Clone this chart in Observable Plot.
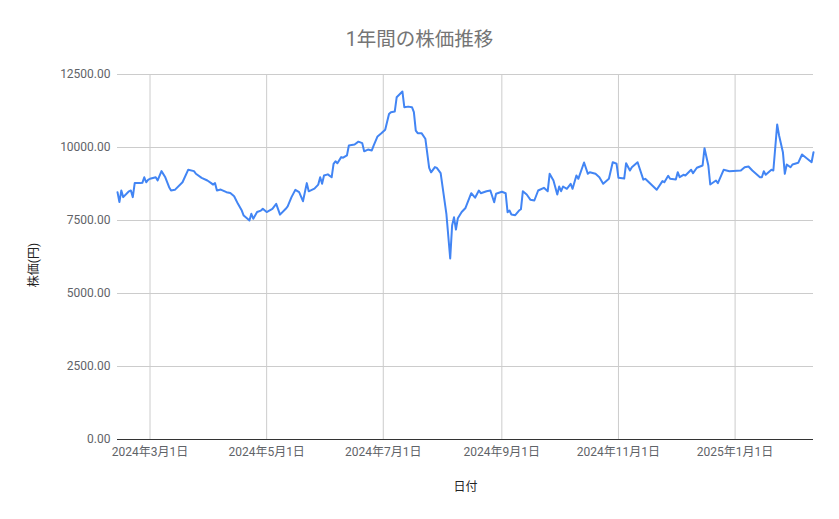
<!DOCTYPE html>
<html>
<head>
<meta charset="utf-8">
<script src="https://cdn.jsdelivr.net/npm/d3@7"></script>
<script src="https://cdn.jsdelivr.net/npm/@observablehq/plot@0.6"></script>
<style>
  html, body { margin: 0; padding: 0; background: #fff; }
  body { width: 839px; height: 519px; overflow: hidden; font-family: Roboto, "Noto Sans CJK JP", sans-serif; }
  #title { height: 60px; box-sizing: border-box; padding-top: 28px; text-align: center; font-size: 19.5px; line-height: 24px; color: #757575; }
  #chart svg { display: block; }
</style>
</head>
<body>
<div id="title">1年間の株価推移</div>
<div id="chart"></div>
<script>
const dates = ["2024-02-13","2024-02-14","2024-02-15","2024-02-16","2024-02-19","2024-02-20","2024-02-21","2024-02-22","2024-02-25","2024-02-26","2024-02-27","2024-02-28","2024-02-29","2024-03-01","2024-03-04","2024-03-05","2024-03-07","2024-03-09","2024-03-11","2024-03-12","2024-03-14","2024-03-18","2024-03-21","2024-03-24","2024-03-25","2024-03-28","2024-03-31","2024-04-02","2024-04-03","2024-04-04","2024-04-05","2024-04-07","2024-04-10","2024-04-12","2024-04-14","2024-04-16","2024-04-18","2024-04-19","2024-04-21","2024-04-22","2024-04-23","2024-04-24","2024-04-26","2024-04-28","2024-04-29","2024-05-01","2024-05-04","2024-05-06","2024-05-08","2024-05-11","2024-05-12","2024-05-14","2024-05-16","2024-05-18","2024-05-20","2024-05-22","2024-05-23","2024-05-26","2024-05-28","2024-05-29","2024-05-30","2024-05-31","2024-06-02","2024-06-04","2024-06-05","2024-06-06","2024-06-07","2024-06-09","2024-06-10","2024-06-12","2024-06-13","2024-06-16","2024-06-18","2024-06-20","2024-06-21","2024-06-23","2024-06-25","2024-06-26","2024-06-28","2024-06-30","2024-07-02","2024-07-04","2024-07-05","2024-07-07","2024-07-08","2024-07-11","2024-07-12","2024-07-14","2024-07-16","2024-07-17","2024-07-18","2024-07-19","2024-07-21","2024-07-23","2024-07-25","2024-07-26","2024-07-28","2024-07-29","2024-07-31","2024-08-03","2024-08-05","2024-08-06","2024-08-07","2024-08-08","2024-08-09","2024-08-11","2024-08-13","2024-08-16","2024-08-18","2024-08-20","2024-08-21","2024-08-24","2024-08-26","2024-08-28","2024-08-29","2024-09-01","2024-09-03","2024-09-04","2024-09-05","2024-09-06","2024-09-08","2024-09-10","2024-09-11","2024-09-12","2024-09-14","2024-09-16","2024-09-18","2024-09-20","2024-09-23","2024-09-25","2024-09-26","2024-09-28","2024-09-30","2024-10-01","2024-10-02","2024-10-03","2024-10-05","2024-10-07","2024-10-08","2024-10-10","2024-10-11","2024-10-14","2024-10-16","2024-10-17","2024-10-20","2024-10-22","2024-10-24","2024-10-27","2024-10-29","2024-10-31","2024-11-01","2024-11-04","2024-11-05","2024-11-07","2024-11-08","2024-11-11","2024-11-14","2024-11-15","2024-11-21","2024-11-24","2024-11-25","2024-11-27","2024-11-28","2024-12-01","2024-12-02","2024-12-03","2024-12-05","2024-12-06","2024-12-09","2024-12-10","2024-12-12","2024-12-15","2024-12-16","2024-12-18","2024-12-19","2024-12-22","2024-12-23","2024-12-26","2024-12-29","2025-01-04","2025-01-06","2025-01-08","2025-01-10","2025-01-14","2025-01-15","2025-01-16","2025-01-17","2025-01-20","2025-01-21","2025-01-23","2025-01-24","2025-01-26","2025-01-27","2025-01-28","2025-01-30","2025-01-31","2025-02-03","2025-02-05","2025-02-10","2025-02-11"];

const prices = [8470,8130,8530,8300,8500,8530,8300,8780,8780,8790,
8980,8810,8890,8930,8980,8870,9190,8980,8640,8530,
8550,8810,9240,9190,9100,8960,8870,8780,8730,8780,
8530,8560,8470,8440,8330,8070,7840,7670,7560,7500,
7730,7560,7790,7840,7900,7790,7900,8070,7700,7900,
7980,8300,8550,8470,8160,8780,8500,8590,8730,8980,
8760,9040,9080,8980,9440,9530,9460,9670,9650,9730,
10070,10100,10200,10150,9870,9930,9900,10070,10380,10490,
10610,11150,11210,11230,11720,11920,11380,11400,11380,11210,
10580,10490,10490,10300,9300,9150,9330,9300,9120,7730,
6200,7330,7610,7190,7580,7790,7930,8435,8280,8527,
8435,8503,8527,8127,8414,8483,8435,7785,7842,7705,
7682,7842,7887,8503,8390,8209,8185,8527,8620,8503,
9099,8870,8390,8664,8503,8664,8586,8756,8586,9041,
8928,9486,9099,9154,9099,8983,8756,8928,9497,9442,
8962,8938,9463,9212,9325,9497,8900,8928,8551,8848,
8812,9030,8928,8904,9154,8983,9065,9041,9236,9120,
9305,9384,9976,9384,8733,8870,8777,9236,9188,9212,
9325,9349,9212,8983,8983,9188,9065,9236,9212,10788,
10411,9839,9099,9418,9325,9418,9475,9760,9497,9839];

const xTicks = ["2024-03-01","2024-05-01","2024-07-01","2024-09-01","2024-11-01","2025-01-01"];
const xTickLabels = ["2024年3月1日","2024年5月1日","2024年7月1日","2024年9月1日","2024年11月1日","2025年1月1日"];
const yTicks = [0, 2500, 5000, 7500, 10000, 12500];

const n = Math.min(dates.length, prices.length);
const data = d3.range(n).map(i => ({date: new Date(dates[i] + "T00:00:00Z"), price: prices[i]}));
const tickDates = xTicks.map(d => new Date(d + "T00:00:00Z"));
const labelOf = new Map(tickDates.map((d, i) => [+d, xTickLabels[i]]));

const font = "Roboto, 'Noto Sans CJK JP', sans-serif";
const chart = Plot.plot({
  width: 839,
  height: 459,
  marginLeft: 117,
  marginRight: 26,
  marginTop: 14,
  marginBottom: 80,
  style: {fontFamily: font, fontSize: "12px", background: "#fff"},
  x: {type: "utc", domain: [data[0].date, data[n - 1].date]},
  y: {domain: [0, 12500]},
  marks: [
    Plot.gridY(yTicks.slice(1), {stroke: "#cccccc", strokeOpacity: 1, strokeWidth: 1}),
    Plot.gridX(tickDates, {stroke: "#cccccc", strokeOpacity: 1, strokeWidth: 1}),
    Plot.ruleY([0], {stroke: "#333333", strokeWidth: 1}),
    Plot.axisY(yTicks, {
      tickSize: 0, tickPadding: 7, tickFormat: d => d.toFixed(2),
      fill: "#5f6368", fontSize: 12,
      label: "株価(円)", labelAnchor: "center", labelArrow: "none", labelOffset: 88
    }),
    Plot.axisX(tickDates, {
      tickSize: 0, tickPadding: 8, tickFormat: d => labelOf.get(+d),
      fill: "#5f6368", fontSize: 12,
      label: "日付", labelAnchor: "center", labelArrow: "none", labelOffset: 51
    }),
    Plot.lineY(data, {x: "date", y: "price", stroke: "#4285f4", strokeWidth: 2, curve: "linear"})
  ]
});
document.getElementById("chart").appendChild(chart);
// axis titles darker, like the reference
chart.querySelectorAll("g[aria-label='y-axis label'], g[aria-label='x-axis label']").forEach(g => {
  g.querySelectorAll("text").forEach(t => { t.setAttribute("fill", "#222222"); t.setAttribute("font-size", "12"); });
});
const yl = chart.querySelector("g[aria-label='y-axis label']");
if (yl) yl.setAttribute("transform", "translate(0,8) " + (yl.getAttribute("transform") || ""));
</script>
</body>
</html>
